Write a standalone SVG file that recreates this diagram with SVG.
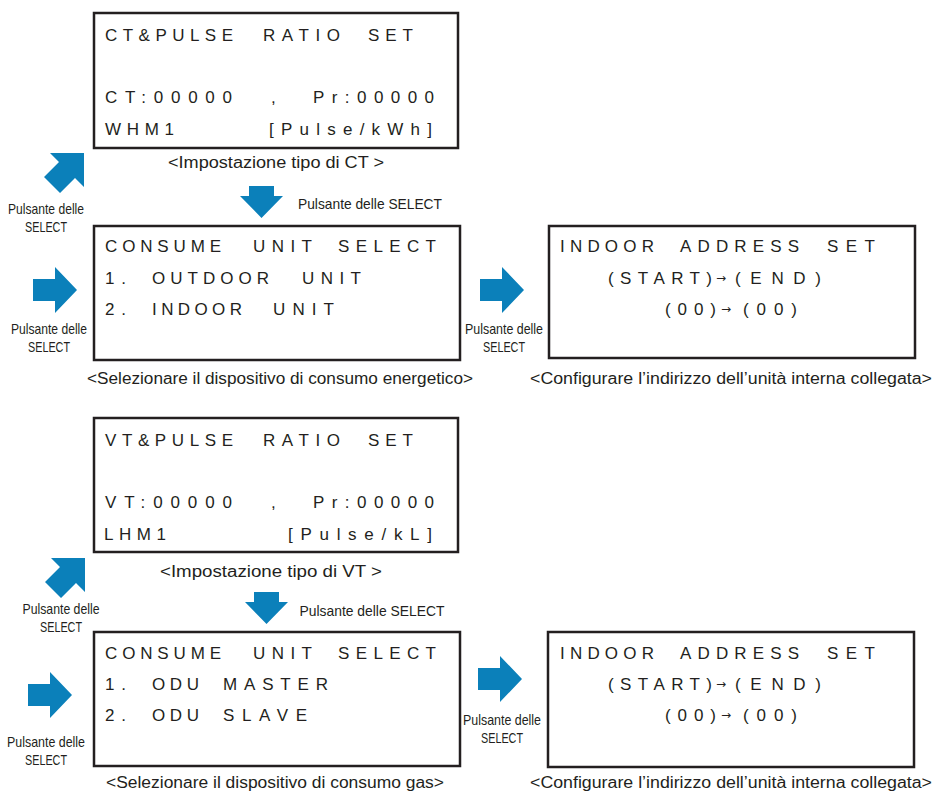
<svg xmlns="http://www.w3.org/2000/svg" xmlns:xlink="http://www.w3.org/1999/xlink" width="935" height="794" viewBox="0 0 935 794">
<style>
.box{fill:#fff;stroke:#231f20;stroke-width:2.5}
.lcd{font-family:"Liberation Sans",Arial,sans-serif;font-size:17px;fill:#231f20}
.sm{font-family:"DejaVu Sans","Liberation Sans",sans-serif;font-size:12px;fill:#231f20}
.cap{font-family:"Liberation Sans",Arial,sans-serif;font-size:16px;fill:#231f20}
.lbl{font-family:"Liberation Sans",Arial,sans-serif;font-size:15px;fill:#231f20;text-anchor:middle}
.arr{fill:#0b80ba}
</style>
<defs>
<path id="aR" d="M0,12 H22 V0 L44,23 L22,46 V34 H0 Z"/>
<path id="aD" d="M9,0 H34 V10 H43 L21.5,32 L0,10 H9 Z"/>
<path id="aG" d="M6,0 H40 V34 L31,25 L16,40 L0,24 L15,9 Z"/>
</defs>

<g id="ct-box">
<rect class="box" x="94" y="13" width="364" height="135"/>
<text class="lcd" x="105" y="41" textLength="128" lengthAdjust="spacing">CT&amp;PULSE</text>
<text class="lcd" x="263" y="41" textLength="77" lengthAdjust="spacing">RATIO</text>
<text class="lcd" x="368" y="41" textLength="45" lengthAdjust="spacing">SET</text>
<text class="lcd" x="105" y="103" textLength="127" lengthAdjust="spacing">CT:00000</text>
<text class="lcd" x="271" y="103">,</text>
<text class="lcd" x="313" y="103" textLength="121" lengthAdjust="spacing">Pr:00000</text>
<text class="lcd" x="105" y="135" textLength="69" lengthAdjust="spacing">WHM1</text>
<text class="lcd" x="269" y="135" textLength="163" lengthAdjust="spacing">[Pulse/kWh]</text>
<text class="cap" x="276" y="168" text-anchor="middle" textLength="216" lengthAdjust="spacingAndGlyphs">&lt;Impostazione tipo di CT &gt;</text>
</g>

<g id="consume-energy">
<rect class="box" x="94" y="226" width="366" height="134"/>
<text class="lcd" x="105" y="252" textLength="116" lengthAdjust="spacing">CONSUME</text>
<text class="lcd" x="253" y="252" textLength="59" lengthAdjust="spacing">UNIT</text>
<text class="lcd" x="338" y="252" textLength="98" lengthAdjust="spacing">SELECT</text>
<text class="lcd" x="105" y="284" textLength="21" lengthAdjust="spacing">1.</text>
<text class="lcd" x="152" y="284" textLength="117" lengthAdjust="spacing">OUTDOOR</text>
<text class="lcd" x="302" y="284" textLength="59" lengthAdjust="spacing">UNIT</text>
<text class="lcd" x="105" y="315" textLength="21" lengthAdjust="spacing">2.</text>
<text class="lcd" x="152" y="315" textLength="90" lengthAdjust="spacing">INDOOR</text>
<text class="lcd" x="273" y="315" textLength="61" lengthAdjust="spacing">UNIT</text>
<text class="cap" x="280" y="384" text-anchor="middle" textLength="386" lengthAdjust="spacingAndGlyphs">&lt;Selezionare il dispositivo di consumo energetico&gt;</text>
</g>

<g id="indoor-1">
<rect class="box" x="549" y="226" width="366" height="132"/>
<text class="lcd" x="560" y="252" textLength="94" lengthAdjust="spacing">INDOOR</text>
<text class="lcd" x="680" y="252" textLength="119" lengthAdjust="spacing">ADDRESS</text>
<text class="lcd" x="827" y="252" textLength="48" lengthAdjust="spacing">SET</text>
<text class="lcd" x="608" y="284" textLength="104" lengthAdjust="spacing">(START)</text>
<text class="sm" x="716" y="282">→</text>
<text class="lcd" x="735" y="284" textLength="86" lengthAdjust="spacing">(END)</text>
<text class="lcd" x="665" y="315" textLength="51" lengthAdjust="spacing">(00)</text>
<text class="sm" x="721" y="313">→</text>
<text class="lcd" x="743" y="315" textLength="54" lengthAdjust="spacing">(00)</text>
<text class="cap" x="731" y="384" text-anchor="middle" textLength="402" lengthAdjust="spacingAndGlyphs">&lt;Configurare l’indirizzo dell’unità interna collegata&gt;</text>
</g>

<g id="vt-box">
<rect class="box" x="94" y="418" width="364" height="134"/>
<text class="lcd" x="105" y="446" textLength="128" lengthAdjust="spacing">VT&amp;PULSE</text>
<text class="lcd" x="263" y="446" textLength="77" lengthAdjust="spacing">RATIO</text>
<text class="lcd" x="368" y="446" textLength="45" lengthAdjust="spacing">SET</text>
<text class="lcd" x="105" y="508" textLength="127" lengthAdjust="spacing">VT:00000</text>
<text class="lcd" x="271" y="508">,</text>
<text class="lcd" x="313" y="508" textLength="121" lengthAdjust="spacing">Pr:00000</text>
<text class="lcd" x="104" y="540" textLength="62" lengthAdjust="spacing">LHM1</text>
<text class="lcd" x="288" y="540" textLength="144" lengthAdjust="spacing">[Pulse/kL]</text>
<text class="cap" x="271" y="577" text-anchor="middle" textLength="222" lengthAdjust="spacingAndGlyphs">&lt;Impostazione tipo di VT &gt;</text>
</g>

<g id="consume-gas">
<rect class="box" x="94" y="632" width="366" height="134"/>
<text class="lcd" x="105" y="659" textLength="116" lengthAdjust="spacing">CONSUME</text>
<text class="lcd" x="253" y="659" textLength="59" lengthAdjust="spacing">UNIT</text>
<text class="lcd" x="338" y="659" textLength="98" lengthAdjust="spacing">SELECT</text>
<text class="lcd" x="105" y="690" textLength="21" lengthAdjust="spacing">1.</text>
<text class="lcd" x="152" y="690" textLength="47" lengthAdjust="spacing">ODU</text>
<text class="lcd" x="223" y="690" textLength="105" lengthAdjust="spacing">MASTER</text>
<text class="lcd" x="105" y="721" textLength="21" lengthAdjust="spacing">2.</text>
<text class="lcd" x="152" y="721" textLength="47" lengthAdjust="spacing">ODU</text>
<text class="lcd" x="223" y="721" textLength="84" lengthAdjust="spacing">SLAVE</text>
<text class="cap" x="275" y="788" text-anchor="middle" textLength="338" lengthAdjust="spacingAndGlyphs">&lt;Selezionare il dispositivo di consumo gas&gt;</text>
</g>

<g id="indoor-2">
<rect class="box" x="548" y="632" width="366" height="135"/>
<text class="lcd" x="560" y="659" textLength="94" lengthAdjust="spacing">INDOOR</text>
<text class="lcd" x="680" y="659" textLength="119" lengthAdjust="spacing">ADDRESS</text>
<text class="lcd" x="827" y="659" textLength="48" lengthAdjust="spacing">SET</text>
<text class="lcd" x="608" y="690" textLength="104" lengthAdjust="spacing">(START)</text>
<text class="sm" x="716" y="688">→</text>
<text class="lcd" x="735" y="690" textLength="86" lengthAdjust="spacing">(END)</text>
<text class="lcd" x="665" y="721" textLength="51" lengthAdjust="spacing">(00)</text>
<text class="sm" x="721" y="719">→</text>
<text class="lcd" x="743" y="721" textLength="54" lengthAdjust="spacing">(00)</text>
<text class="cap" x="731" y="788" text-anchor="middle" textLength="402" lengthAdjust="spacingAndGlyphs">&lt;Configurare l’indirizzo dell’unità interna collegata&gt;</text>
</g>

<g id="connectors">
<use class="arr" xlink:href="#aG" href="#aG" transform="translate(44,153)"/>
<text class="lbl" x="46" y="214" textLength="76" lengthAdjust="spacingAndGlyphs">Pulsante delle</text>
<text class="lbl" x="46" y="232" textLength="42" lengthAdjust="spacingAndGlyphs">SELECT</text>

<use class="arr" xlink:href="#aD" href="#aD" transform="translate(240,186)"/>
<text class="lbl" x="370" y="209" textLength="144" lengthAdjust="spacingAndGlyphs">Pulsante delle SELECT</text>

<use class="arr" xlink:href="#aR" href="#aR" transform="translate(33,267)"/>
<text class="lbl" x="49" y="334" textLength="76" lengthAdjust="spacingAndGlyphs">Pulsante delle</text>
<text class="lbl" x="49" y="352" textLength="42" lengthAdjust="spacingAndGlyphs">SELECT</text>

<use class="arr" xlink:href="#aR" href="#aR" transform="translate(480,267)"/>
<text class="lbl" x="504" y="334" textLength="78" lengthAdjust="spacingAndGlyphs">Pulsante delle</text>
<text class="lbl" x="504" y="352" textLength="42" lengthAdjust="spacingAndGlyphs">SELECT</text>

<use class="arr" xlink:href="#aG" href="#aG" transform="translate(45,558)"/>
<text class="lbl" x="61" y="614" textLength="77" lengthAdjust="spacingAndGlyphs">Pulsante delle</text>
<text class="lbl" x="61" y="632" textLength="42" lengthAdjust="spacingAndGlyphs">SELECT</text>

<use class="arr" xlink:href="#aD" href="#aD" transform="translate(245,592)"/>
<text class="lbl" x="372" y="616" textLength="145" lengthAdjust="spacingAndGlyphs">Pulsante delle SELECT</text>

<use class="arr" xlink:href="#aR" href="#aR" transform="translate(28,672)"/>
<text class="lbl" x="46" y="747" textLength="78" lengthAdjust="spacingAndGlyphs">Pulsante delle</text>
<text class="lbl" x="46" y="765" textLength="42" lengthAdjust="spacingAndGlyphs">SELECT</text>

<use class="arr" xlink:href="#aR" href="#aR" transform="translate(478,656)"/>
<text class="lbl" x="502" y="725" textLength="78" lengthAdjust="spacingAndGlyphs">Pulsante delle</text>
<text class="lbl" x="502" y="743" textLength="42" lengthAdjust="spacingAndGlyphs">SELECT</text>
</g>
</svg>
